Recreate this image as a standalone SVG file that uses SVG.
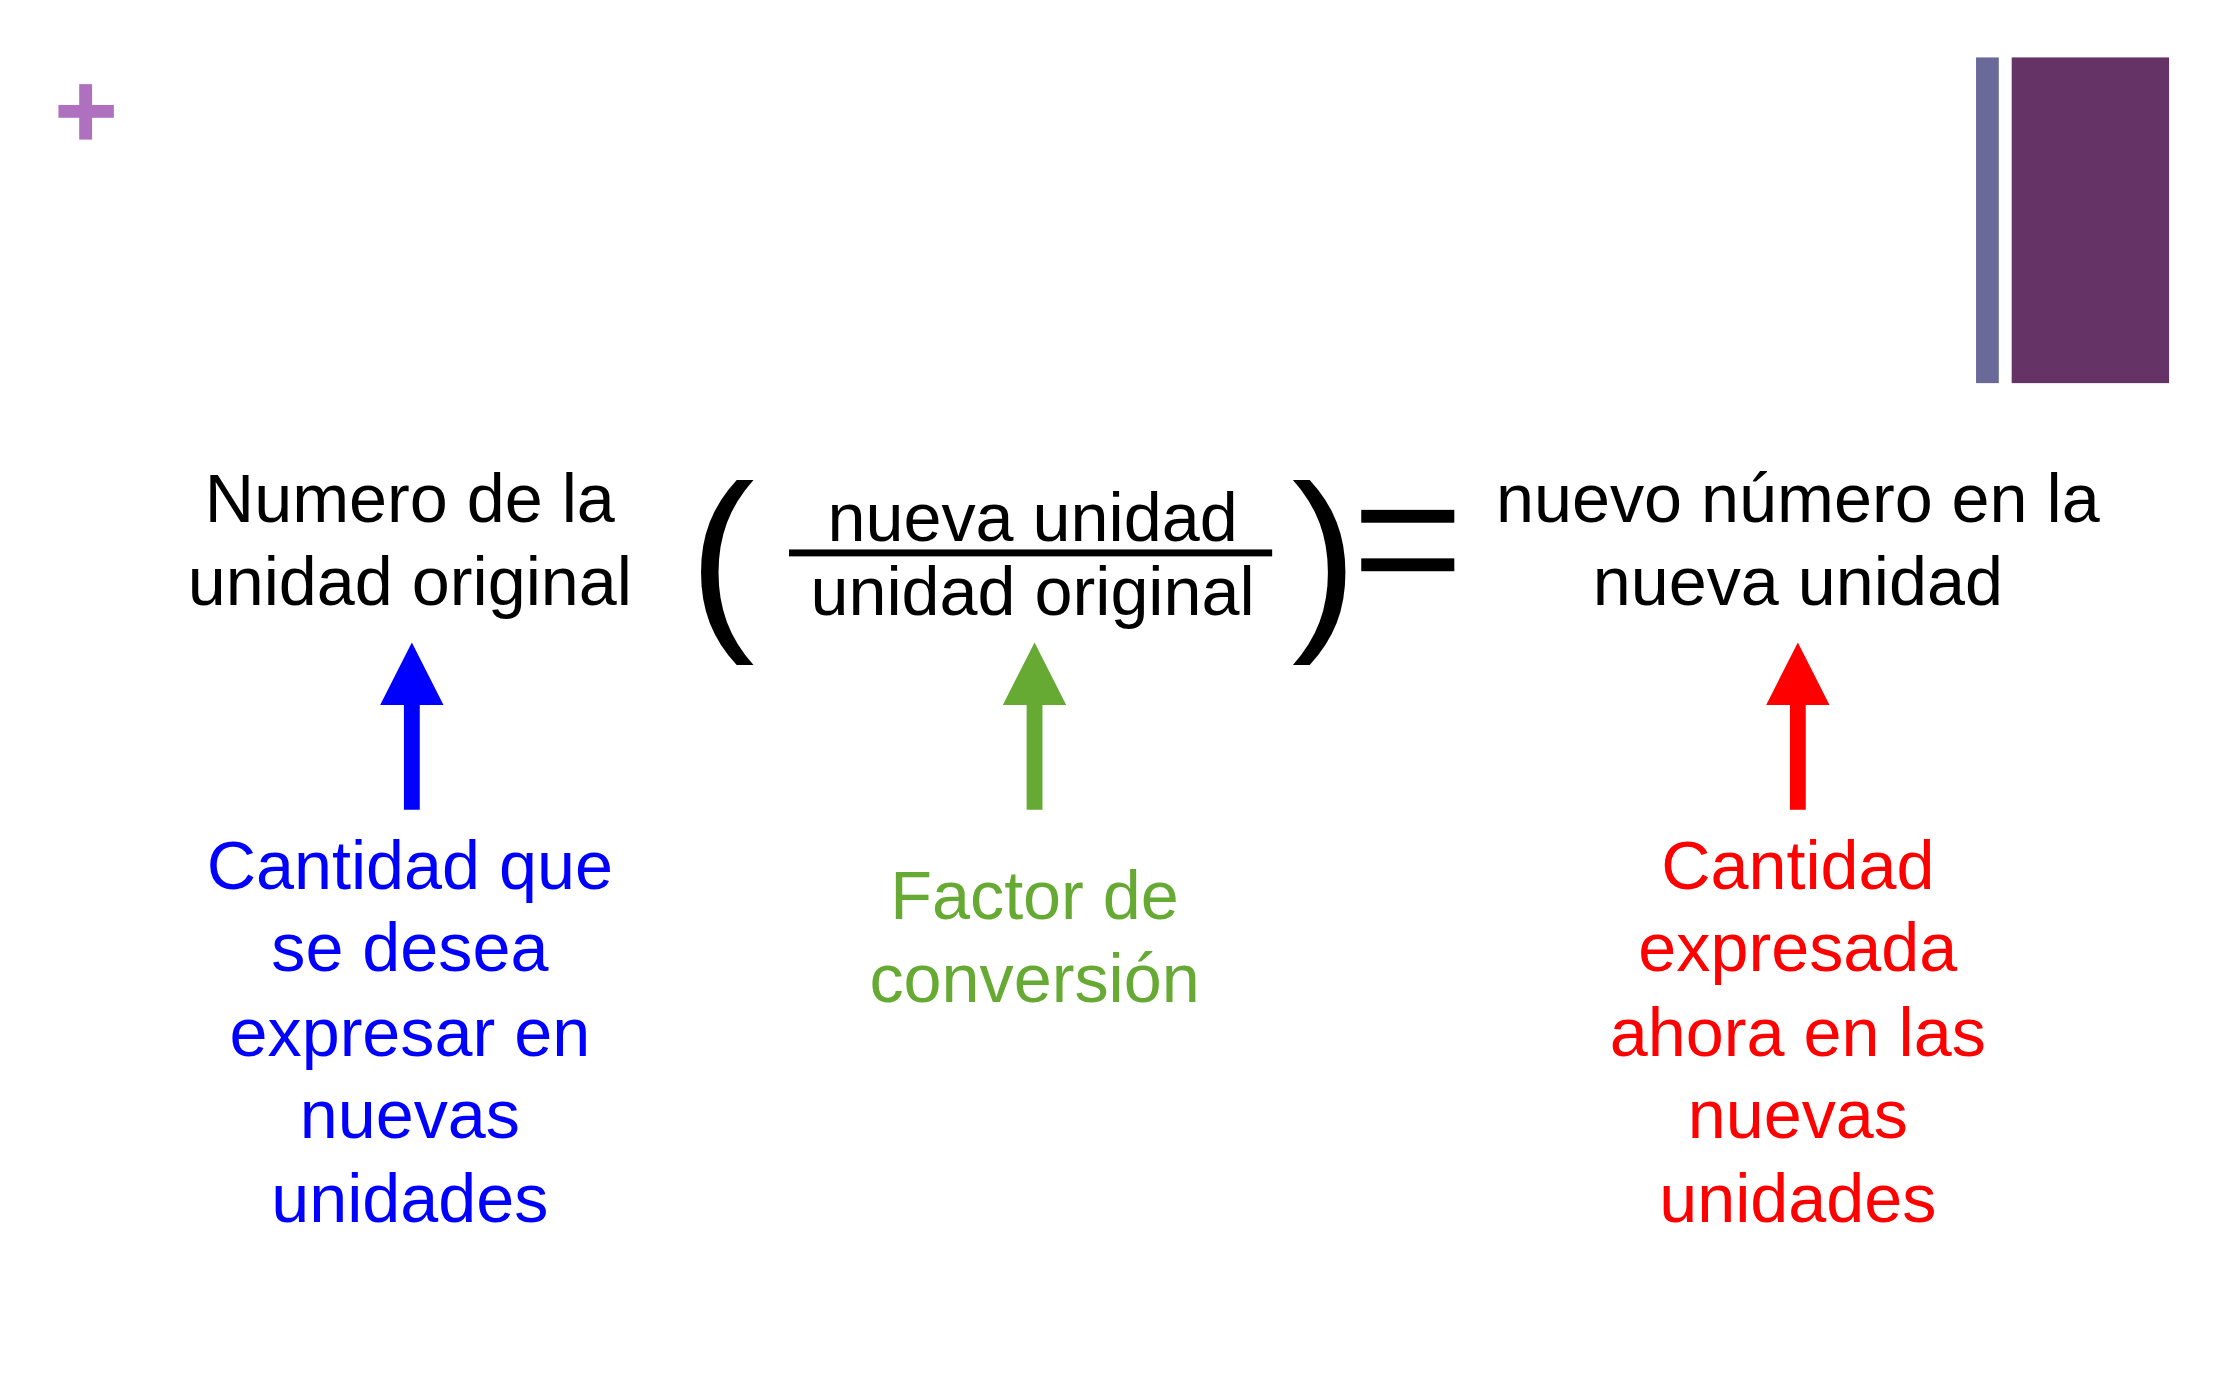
<svg xmlns="http://www.w3.org/2000/svg" width="2240" height="1400" viewBox="0 0 2240 1400">
<style>
text{font-family:"Liberation Sans",Arial,sans-serif;font-size:69px;text-anchor:middle}
.k{fill:#000}.b{fill:#0000ff}.g{fill:#66aa33}.r{fill:#ff0000}
.p{font-size:200px}
</style>
<rect width="2240" height="1400" fill="#fff"/>
<g transform="scale(0.99)">
<g id="deco">
<rect x="59" y="106" width="56" height="13" fill="#b070c0"/>
<rect x="80" y="85" width="13" height="56" fill="#b070c0"/>
<rect x="1996" y="58" width="23" height="329" fill="#6a6a9a"/>
<rect x="2032" y="58" width="159" height="329" fill="#663366"/>
</g>
<g id="n-original"><text class="k" x="414" y="527">Numero de la</text><text class="k" x="414" y="611">unidad original</text></g>
<g id="n-factor">
<text class="p k" x="729" y="630">(</text>
<text class="k" x="1043" y="546">nueva unidad</text>
<rect x="797" y="555" width="488" height="7" fill="#000"/>
<text class="k" x="1043" y="621">unidad original</text>
<text class="p k" x="1338" y="630">)</text>
</g>
<g id="n-equals"><rect x="1375" y="515" width="94" height="13" fill="#000"/><rect x="1375" y="564" width="94" height="13" fill="#000"/></g>
<g id="n-result"><text class="k" x="1816" y="527">nuevo número en la</text><text class="k" x="1816" y="611">nueva unidad</text></g>
<g id="connectors">
<path d="M408 818V712H384L416 649L448 712H424V818Z" fill="#0000ff"/>
<path d="M1037 818V712H1013L1045 649L1077 712H1053V818Z" fill="#66aa33"/>
<path d="M1808 818V712H1784L1816 649L1848 712H1824V818Z" fill="#ff0000"/>
</g>
<g id="l-blue"><text class="b" x="414" y="898">Cantidad que</text><text class="b" x="414" y="981">se desea</text><text class="b" x="414" y="1067">expresar en</text><text class="b" x="414" y="1150">nuevas</text><text class="b" x="414" y="1234">unidades</text></g>
<g id="l-green"><text class="g" x="1045" y="928">Factor de</text><text class="g" x="1045" y="1012">conversión</text></g>
<g id="l-red"><text class="r" x="1816" y="898">Cantidad</text><text class="r" x="1816" y="981">expresada</text><text class="r" x="1816" y="1067">ahora en las</text><text class="r" x="1816" y="1150">nuevas</text><text class="r" x="1816" y="1234">unidades</text></g>
</g>
</svg>
